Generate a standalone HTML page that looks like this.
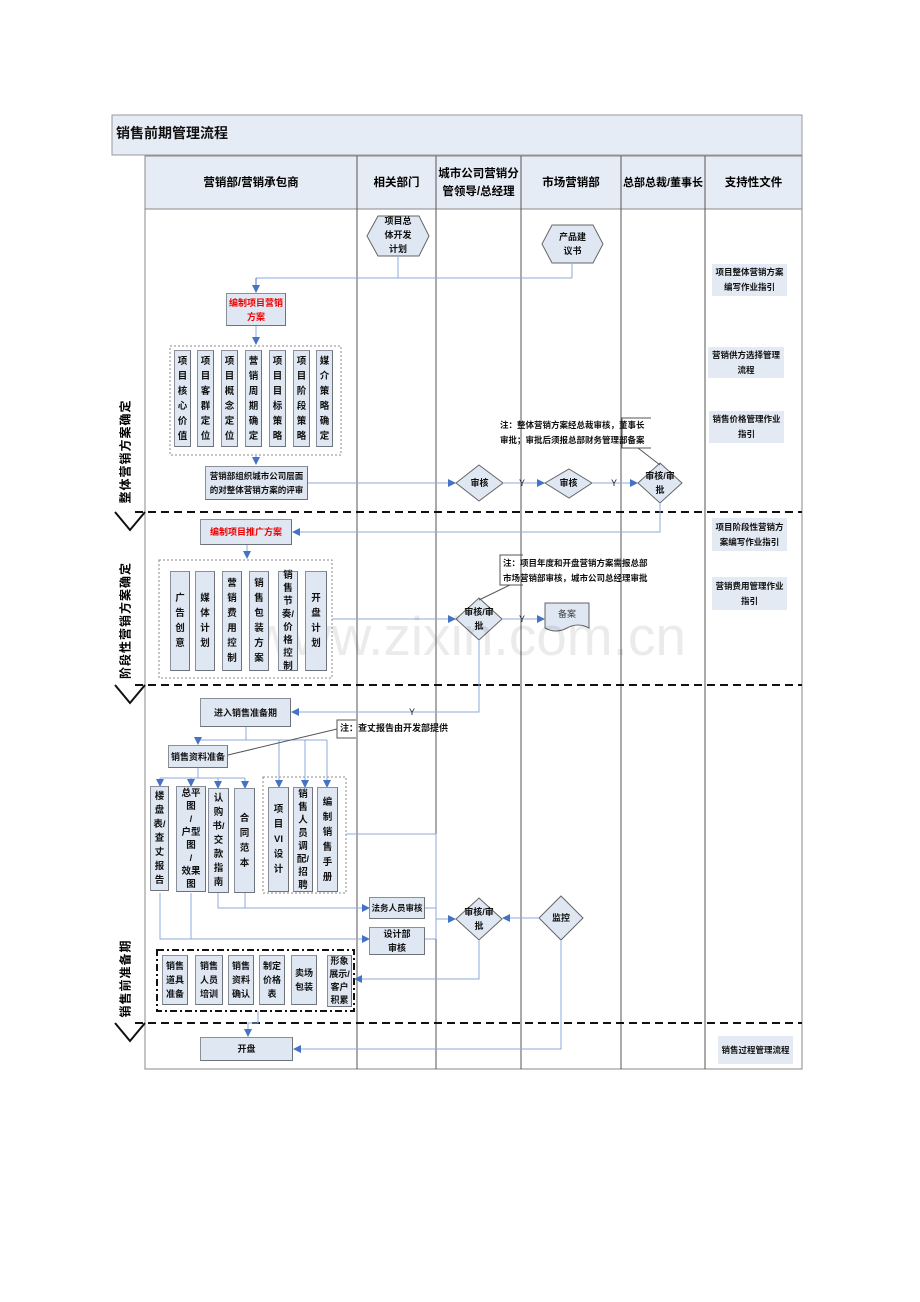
<!DOCTYPE html>
<html><head><meta charset="utf-8">
<style>
body{margin:0;background:#fff;}
#c{position:relative;width:920px;height:1302px;overflow:hidden;font-family:"Liberation Sans","Noto Sans CJK SC",sans-serif;}
.b{position:absolute;box-sizing:border-box;background:#dfe7f3;border:1px solid #8a8f99;border-right-color:#6d727b;border-bottom-color:#6d727b;display:flex;align-items:center;justify-content:center;text-align:center;font-size:9px;line-height:14px;color:#111;font-weight:bold;white-space:nowrap;}
.v{line-height:15px;font-size:9.5px;}
.s{position:absolute;box-sizing:border-box;background:#e3eaf4;display:flex;align-items:center;justify-content:center;text-align:center;font-size:9px;line-height:15px;font-weight:bold;color:#111;white-space:nowrap;}
.t{position:absolute;font-size:9px;line-height:15px;color:#111;font-weight:bold;white-space:nowrap;}
.h{position:absolute;top:156px;height:53px;display:flex;align-items:center;justify-content:center;text-align:center;font-size:11.5px;font-weight:bold;line-height:18px;white-space:nowrap;}
.lane{position:absolute;font-size:12px;font-weight:bold;transform:rotate(-90deg);letter-spacing:1px;white-space:nowrap;text-align:center;}
svg{position:absolute;left:0;top:0;}
</style></head><body><div id="c">
<svg width="920" height="1302">
<defs><marker id="a" markerWidth="8" markerHeight="8" refX="7" refY="4" orient="auto"><path d="M0,0 L8,4 L0,8z" fill="#4472c4"/></marker></defs>
<rect x="112" y="115" width="690" height="40" fill="#e6ecf5" stroke="#999"/>
<rect x="145" y="156" width="657" height="53" fill="#e6ecf5" stroke="#888"/>
<rect x="145" y="209" width="657" height="860" fill="none" stroke="#888"/>
<g stroke="#555" stroke-width="1">
<line x1="357" y1="156" x2="357" y2="1069"/><line x1="436" y1="156" x2="436" y2="1069"/><line x1="521" y1="156" x2="521" y2="1069"/><line x1="621" y1="156" x2="621" y2="1069"/><line x1="705" y1="156" x2="705" y2="1069"/>
</g>
<g stroke="#111" stroke-width="2" stroke-dasharray="8,5"><line x1="135" y1="512" x2="802" y2="512"/><line x1="135" y1="685" x2="802" y2="685"/><line x1="135" y1="1023" x2="802" y2="1023"/></g>
<g stroke="#111" stroke-width="2" fill="none"><path d="M115,512 L130,530 L145,512"/><path d="M115,685 L130,703 L145,685"/><path d="M115,1023 L130,1041 L145,1023"/></g>
<polygon points="378,216 419,216 429,236 419,256 378,256 367,236" fill="#dfe7f3" stroke="#666"/>
<polygon points="552,225 593,225 603,244 593,263 552,263 542,244" fill="#dfe7f3" stroke="#666"/>
<g fill="none" stroke="#888" stroke-dasharray="2,2"><rect x="170" y="346" width="171" height="109"/><rect x="159" y="560" width="173" height="118"/><rect x="263" y="777" width="83" height="116"/></g>
<rect x="157" y="950" width="197" height="61" fill="none" stroke="#111" stroke-width="2" stroke-dasharray="7,3,2,3"/>
<g fill="#dfe7f3" stroke="#666">
<polygon points="479,465 503,483 479,501 456,483"/>
<polygon points="569,469 592,483 569,498 545,483"/>
<polygon points="660,463 682,483 660,503 638,483"/>
<polygon points="479,598 502,619 479,640 456,619"/>
<polygon points="479,898 502,919 479,940 456,919"/>
<polygon points="561,896 583,918 561,940 539,918"/>
</g>
<path d="M545,603 L589,603 L589,628 Q578,622 567,628 Q556,634 545,628 Z" fill="#dfe7f3" stroke="#666"/>
<g fill="none" stroke="#8eaadb" stroke-width="1">
<path d="M398,256 V278 M572,263 V278 M572,278 H256"/>
<path d="M256,278 V292" stroke="#4472c4" marker-end="url(#a)"/>
<path d="M256,326 V344" marker-end="url(#a)"/>
<path d="M256,455 V464" marker-end="url(#a)"/>
<path d="M308,483 H455" marker-end="url(#a)"/>
<path d="M503,483 H544" marker-end="url(#a)"/>
<path d="M592,483 H637" marker-end="url(#a)"/>
<path d="M660,503 V532 H293" marker-end="url(#a)"/>
<path d="M247,545 V558" marker-end="url(#a)"/>
<path d="M332,619 H455" marker-end="url(#a)"/>
<path d="M502,619 H544" marker-end="url(#a)"/>
<path d="M479,640 V712 H292" marker-end="url(#a)"/>
<path d="M246,727 V740 H198 V744 M246,740 H327 M279,740 V786 M305,740 V786 M327,740 V786" />
<path d="M198,740 V744" marker-end="url(#a)"/>
<path d="M198,768 V778 M160,778 H245"/>
<path d="M160,778 V786" marker-end="url(#a)"/><path d="M191,778 V786" marker-end="url(#a)"/><path d="M218,778 V788" marker-end="url(#a)"/><path d="M245,778 V788" marker-end="url(#a)"/>
<path d="M279,778 V787" marker-end="url(#a)"/><path d="M305,778 V787" marker-end="url(#a)"/><path d="M327,778 V787" marker-end="url(#a)"/>
<path d="M346,834 H436 V939"/>
<path d="M218,893 V908 H369" marker-end="url(#a)"/><path d="M245,893 V908"/>
<path d="M160,893 V939 H369" marker-end="url(#a)"/><path d="M191,893 V939"/>
<path d="M425,908 H436 M425,939 H436"/>
<path d="M436,919 H455" marker-end="url(#a)"/>
<path d="M539,918 H503" marker-end="url(#a)"/>
<path d="M479,940 V979 H355" marker-end="url(#a)"/>
<path d="M258,1011 V1023 H248 V1036" marker-end="url(#a)"/>
<path d="M561,940 V1049 H294" marker-end="url(#a)"/>
</g>
<g fill="none" stroke="#555"><path d="M638,448 L660,465"/><path d="M510,585 L479,600"/><path d="M337,729 L228,755"/>
<path d="M651,418 H622 V448 H651"/><path d="M523,555 H500 V585 H523"/><path d="M356,720 H337 V738 H356"/></g>
<text x="252" y="655" font-family="Liberation Sans" font-size="55" fill="#000" fill-opacity="0.08">www.zixin.com.cn</text>
</svg>
<div class="t" style="left:116px;top:126px;font-size:14px;">销售前期管理流程</div>
<div class="h" style="left:145px;width:212px;">营销部/营销承包商</div>
<div class="h" style="left:357px;width:79px;">相关部门</div>
<div class="h" style="left:436px;width:85px;">城市公司营销分<br>管领导/总经理</div>
<div class="h" style="left:521px;width:100px;">市场营销部</div>
<div class="h" style="left:621px;width:84px;font-size:11px;">总部总裁/董事长</div>
<div class="h" style="left:705px;width:97px;">支持性文件</div>
<div class="lane" style="left:70px;top:443px;width:110px;">整体营销方案确定</div>
<div class="lane" style="left:60px;top:612px;width:130px;">阶段性营销方案确定</div>
<div class="lane" style="left:80px;top:970px;width:90px;">销售前准备期</div>
<div class="t" style="left:367px;top:214px;width:62px;text-align:center;line-height:14px;">项目总<br>体开发<br>计划</div>
<div class="t" style="left:542px;top:230px;width:61px;text-align:center;line-height:14px;">产品建<br>议书</div>
<div class="b" style="left:226px;top:293px;width:60px;height:33px;color:#e00;">编制项目营销<br>方案</div>
<div class="b v" style="left:174px;top:350px;width:17px;height:97px;">项<br>目<br>核<br>心<br>价<br>值</div>
<div class="b v" style="left:197px;top:350px;width:17px;height:97px;">项<br>目<br>客<br>群<br>定<br>位</div>
<div class="b v" style="left:221px;top:350px;width:17px;height:97px;">项<br>目<br>概<br>念<br>定<br>位</div>
<div class="b v" style="left:245px;top:350px;width:17px;height:97px;">营<br>销<br>周<br>期<br>确<br>定</div>
<div class="b v" style="left:269px;top:350px;width:17px;height:97px;">项<br>目<br>目<br>标<br>策<br>略</div>
<div class="b v" style="left:293px;top:350px;width:17px;height:97px;">项<br>目<br>阶<br>段<br>策<br>略</div>
<div class="b v" style="left:316px;top:350px;width:17px;height:97px;">媒<br>介<br>策<br>略<br>确<br>定</div>
<div class="b" style="left:205px;top:466px;width:103px;height:34px;font-size:8.5px;">营销部组织城市公司层面<br>的对整体营销方案的评审</div>
<div class="t" style="left:456px;top:476px;width:47px;text-align:center;">审核</div>
<div class="t" style="left:519px;top:476px;font-weight:normal;">Y</div>
<div class="t" style="left:545px;top:476px;width:47px;text-align:center;">审核</div>
<div class="t" style="left:611px;top:476px;font-weight:normal;">Y</div>
<div class="t" style="left:638px;top:469px;width:44px;text-align:center;line-height:14px;">审核/审<br>批</div>
<div class="t" style="left:500px;top:418px;font-size:8.5px;">注：整体营销方案经总裁审核，董事长<br>审批；审批后须报总部财务管理部备案</div>
<div class="b" style="left:200px;top:519px;width:92px;height:26px;color:#e00;">编制项目推广方案</div>
<div class="b v" style="left:170px;top:571px;width:20px;height:100px;">广<br>告<br>创<br>意</div>
<div class="b v" style="left:195px;top:571px;width:20px;height:100px;">媒<br>体<br>计<br>划</div>
<div class="b v" style="left:222px;top:571px;width:20px;height:100px;">营<br>销<br>费<br>用<br>控<br>制</div>
<div class="b v" style="left:249px;top:571px;width:20px;height:100px;">销<br>售<br>包<br>装<br>方<br>案</div>
<div class="b v" style="left:278px;top:571px;width:20px;height:100px;line-height:13px;">销<br>售<br>节<br>奏/<br>价<br>格<br>控<br>制</div>
<div class="b v" style="left:305px;top:571px;width:22px;height:100px;">开<br>盘<br>计<br>划</div>
<div class="t" style="left:456px;top:605px;width:46px;text-align:center;line-height:14px;">审核/审<br>批</div>
<div class="t" style="left:519px;top:612px;font-weight:normal;">Y</div>
<div class="t" style="left:545px;top:607px;width:44px;text-align:center;font-weight:normal;color:#444;">备案</div>
<div class="t" style="left:503px;top:556px;font-size:8.5px;">注：项目年度和开盘营销方案需报总部<br>市场营销部审核，城市公司总经理审批</div>
<div class="t" style="left:409px;top:705px;font-weight:normal;">Y</div>
<div class="b" style="left:200px;top:698px;width:91px;height:29px;">进入销售准备期</div>
<div class="t" style="left:340px;top:721px;">注：查丈报告由开发部提供</div>
<div class="b" style="left:168px;top:745px;width:60px;height:23px;">销售资料准备</div>
<div class="b v" style="left:150px;top:786px;width:19px;height:105px;line-height:14px;">楼<br>盘<br>表/<br>查<br>丈<br>报<br>告</div>
<div class="b v" style="left:176px;top:786px;width:30px;height:106px;line-height:13px;">总平<br>图<br>/<br>户型<br>图<br>/<br>效果<br>图</div>
<div class="b v" style="left:208px;top:788px;width:21px;height:105px;line-height:14px;">认<br>购<br>书/<br>交<br>款<br>指<br>南</div>
<div class="b v" style="left:234px;top:788px;width:21px;height:105px;">合<br>同<br>范<br>本</div>
<div class="b v" style="left:268px;top:787px;width:21px;height:105px;">项<br>目<br>VI<br>设<br>计</div>
<div class="b v" style="left:293px;top:787px;width:20px;height:105px;line-height:13px;">销<br>售<br>人<br>员<br>调<br>配/<br>招<br>聘</div>
<div class="b v" style="left:317px;top:787px;width:21px;height:105px;">编<br>制<br>销<br>售<br>手<br>册</div>
<div class="b" style="left:369px;top:897px;width:56px;height:22px;font-size:8.5px;">法务人员审核</div>
<div class="b" style="left:369px;top:927px;width:56px;height:28px;">设计部<br>审核</div>
<div class="t" style="left:456px;top:905px;width:46px;text-align:center;line-height:14px;">审核/审<br>批</div>
<div class="t" style="left:539px;top:911px;width:44px;text-align:center;">监控</div>
<div class="b" style="left:162px;top:955px;width:26px;height:50px;">销售<br>道具<br>准备</div>
<div class="b" style="left:195px;top:955px;width:28px;height:50px;">销售<br>人员<br>培训</div>
<div class="b" style="left:228px;top:955px;width:26px;height:50px;">销售<br>资料<br>确认</div>
<div class="b" style="left:259px;top:955px;width:26px;height:50px;">制定<br>价格<br>表</div>
<div class="b" style="left:291px;top:955px;width:26px;height:50px;">卖场<br>包装</div>
<div class="b" style="left:327px;top:955px;width:25px;height:52px;line-height:13px;">形象<br>展示/<br>客户<br>积累</div>
<div class="b" style="left:200px;top:1037px;width:93px;height:24px;">开盘</div>
<div class="s" style="left:712px;top:264px;width:75px;height:32px;font-size:8.5px;">项目整体营销方案<br>编写作业指引</div>
<div class="s" style="left:708px;top:347px;width:76px;height:31px;font-size:8.5px;">营销供方选择管理<br>流程</div>
<div class="s" style="left:709px;top:411px;width:75px;height:32px;font-size:8.5px;">销售价格管理作业<br>指引</div>
<div class="s" style="left:712px;top:518px;width:75px;height:33px;font-size:8.5px;">项目阶段性营销方<br>案编写作业指引</div>
<div class="s" style="left:712px;top:577px;width:75px;height:33px;font-size:8.5px;">营销费用管理作业<br>指引</div>
<div class="s" style="left:718px;top:1036px;width:75px;height:28px;font-size:8.5px;">销售过程管理流程</div>
</div></body></html>
